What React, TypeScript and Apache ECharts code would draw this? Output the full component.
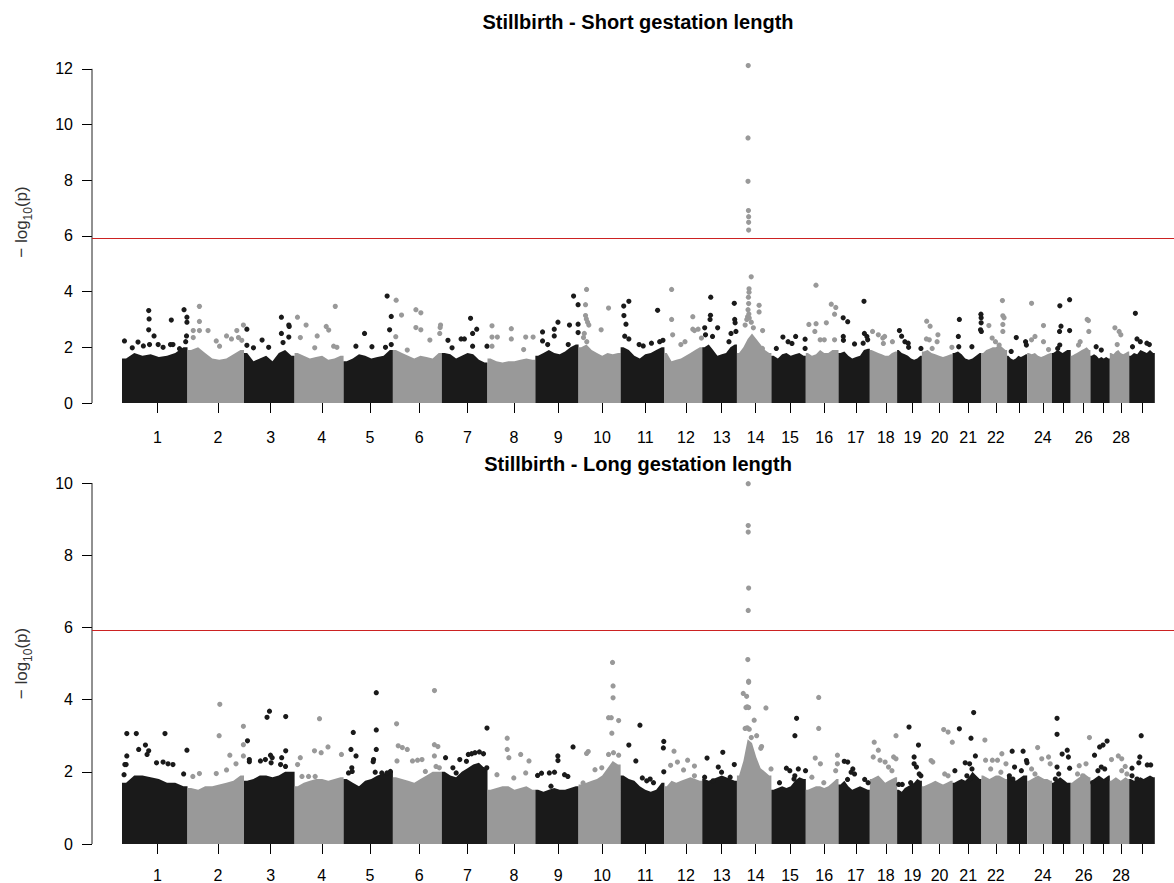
import React, { useEffect, useRef } from "react";
import * as echarts from "echarts";

// ---------- data ----------
const chromosomes = ["1","2","3","4","5","6","7","8","9","10","11","12","13","14","15","16","17","18","19","20","21","22","23","24","25","26","27","28","29"];
// chromosome lengths (Mb)
const chromLengthMb = [159.4,137.5,123.1,119.2,120.0,119.0,111.2,116.5,105.1,102.4,106.6,92.0,84.4,83.9,83.7,79.6,76.2,66.4,60.3,74.7,70.3,62.3,48.9,60.3,45.7,47.9,47.2,47.2,62.3];
// axis tick position inside each chromosome (Mb, median SNP)
const tickPosMb = [86.4,74.0,65.0,66.2,64.2,64.2,62.5,64.2,55.5,57.2,59.9,52.3,47.2,45.7,45.5,44.8,42.1,38.9,37.2,43.1,38.0,34.8,28.7,38.0,27.5,31.4,32.4,27.5,31.6];
const hiddenLabels = ["23","25","27","29"];
const yTicksShort = [0,2,4,6,8,10,12];
const yTicksLong = [0,2,4,6,8,10];
const yMaxShort = 13;
const yMaxLong = 10;
const threshold = 5.93;
const titleShort = "Stillbirth - Short gestation length";
const titleLong = "Stillbirth - Long gestation length";

// upper envelope of the dense SNP mass (8 values across each chromosome), -log10(p)
const bandShort = [
  [1.6,1.8,1.7,1.75,1.65,1.7,1.8,2.0],[1.9,2.0,1.8,1.6,1.55,1.6,1.75,1.9],[1.8,1.5,1.6,1.7,1.5,1.8,1.9,1.7],
  [1.8,1.7,1.6,1.65,1.7,1.55,1.6,1.7],[1.5,1.6,1.75,1.7,1.6,1.65,1.7,1.9],[1.9,1.8,1.7,1.6,1.7,1.65,1.6,1.8],
  [1.8,1.75,1.6,1.7,1.8,1.75,1.55,1.45],[1.6,1.5,1.45,1.5,1.5,1.55,1.6,1.55],[1.7,1.8,1.9,1.8,1.75,1.85,2.0,2.1],
  [2.0,2.1,1.9,1.8,1.7,1.8,1.75,1.8],[2.0,1.9,1.7,1.6,1.75,1.8,1.9,2.0],[1.8,1.5,1.55,1.6,1.7,1.8,1.9,2.0],
  [2.0,2.1,1.9,1.7,1.75,1.8,2.0,2.1],[1.8,2.0,2.3,2.5,2.3,2.1,1.9,1.8],[1.7,1.6,1.75,1.8,1.7,1.75,1.8,1.7],
  [1.8,1.7,1.75,1.9,1.8,1.8,1.9,1.9],[1.8,1.85,1.7,1.6,1.65,1.7,1.9,1.95],[1.9,1.85,1.8,1.75,1.7,1.7,1.8,1.85],
  [1.9,1.8,1.75,1.7,1.6,1.55,1.6,1.7],[1.85,1.9,1.8,1.75,1.7,1.65,1.7,1.75],[1.8,1.85,1.75,1.6,1.55,1.6,1.7,1.8],
  [1.8,1.9,1.95,2.0,2.0,2.1,2.0,1.9],[1.7,1.6,1.55,1.6,1.7,1.65,1.7,1.75],[1.8,1.75,1.8,1.7,1.65,1.7,1.75,1.8],
  [1.8,1.85,1.9,1.85,1.8,1.85,1.9,1.9],[1.7,1.75,1.8,1.85,1.9,1.95,2.0,1.9],[1.7,1.75,1.7,1.6,1.65,1.6,1.65,1.6],
  [1.8,1.75,1.85,1.9,1.8,1.75,1.8,1.85],[1.7,1.8,1.75,1.9,1.85,1.8,1.9,1.8]
];
const bandLong = [
  [1.7,1.9,1.9,1.85,1.8,1.7,1.7,1.6],[1.55,1.5,1.6,1.6,1.65,1.7,1.75,1.9],[1.75,1.8,1.9,1.9,1.85,1.9,2.0,2.0],
  [1.6,1.7,1.75,1.8,1.8,1.75,1.8,1.85],[1.8,1.7,1.6,1.75,1.8,1.9,1.95,2.0],[1.85,1.8,1.75,1.7,1.8,1.9,2.0,2.0],
  [2.0,1.9,1.85,2.0,2.1,2.2,2.25,2.1],[1.5,1.55,1.6,1.6,1.5,1.55,1.6,1.5],[1.5,1.45,1.5,1.55,1.5,1.5,1.55,1.6],
  [1.65,1.7,1.75,1.8,1.9,2.1,2.3,2.2],[1.9,1.8,1.75,1.6,1.5,1.45,1.5,1.7],[1.6,1.75,1.7,1.75,1.8,1.85,1.8,1.75],
  [1.8,1.75,1.8,1.85,1.9,1.85,1.8,1.75],[1.9,2.3,2.9,2.8,2.4,2.1,2.0,1.9],[1.5,1.55,1.6,1.55,1.6,1.75,1.85,1.8],
  [1.5,1.55,1.6,1.6,1.55,1.6,1.7,1.8],[1.65,1.75,1.6,1.5,1.55,1.6,1.55,1.5],[1.8,1.85,1.9,1.8,1.7,1.75,1.8,1.85],
  [1.5,1.45,1.55,1.6,1.65,1.7,1.8,1.75],[1.6,1.65,1.7,1.75,1.7,1.65,1.7,1.75],[1.7,1.75,1.8,1.75,1.85,2.0,1.9,1.8],
  [1.9,1.85,1.8,1.85,1.9,1.9,1.85,1.8],[1.9,1.85,1.8,1.75,1.8,1.85,1.9,1.9],[1.75,1.8,1.85,1.9,1.85,1.8,1.8,1.75],
  [1.7,1.75,1.8,1.85,1.8,1.75,1.7,1.7],[1.7,1.75,1.8,1.85,1.9,1.95,1.9,1.85],[1.75,1.8,1.85,1.9,1.85,1.8,1.85,1.9],
  [1.75,1.8,1.85,1.8,1.75,1.8,1.85,1.8],[1.8,1.75,1.8,1.85,1.8,1.85,1.9,1.85]
];

// individual SNPs above the dense mass: [chromosome, position Mb, -log10(p)]
const snpsShort = [
  [1,6,2.23],[1,25,1.98],[1,39,2.19],[1,52,2.05],[1,65,3.32],[1,66,3.02],[1,65,2.63],[1,67,2.1],[1,78,2.41],[1,88,2.1],[1,100,2.0],[1,118,2.1],[1,120,2.98],[1,124,2.1],[1,140,1.95],[1,151,3.35],[1,157,2.41],[1,158,3.08],[1,158,2.9],[1,155,2.2],
  [2,14,2.35],[2,14,2.6],[2,29,3.47],[2,29,2.93],[2,29,2.6],[2,50,2.6],[2,70,2.23],[2,78,2.04],[2,95,2.41],[2,107,2.3],[2,124,2.35],[2,120,2.6],[2,132,2.25],[2,136,2.8],
  [3,7,2.65],[3,7,2.07],[3,23,1.98],[3,44,2.26],[3,60,2.0],[3,91,3.08],[3,91,2.5],[3,95,2.17],[3,109,2.8],[3,110,2.75],[3,109,2.37],
  [4,7,3.08],[4,14,2.35],[4,28,2.8],[4,49,1.98],[4,55,2.41],[4,77,2.75],[4,83,2.62],[4,95,2.04],[4,99,3.47],[4,103,2.0],
  [5,30,2.04],[5,51,2.5],[5,69,2.02],[5,102,2.0],[5,106,3.84],[5,112,2.63],[5,116,3.11],[5,116,2.1],
  [6,7,2.38],[6,8,3.69],[6,21,3.16],[6,35,1.9],[6,56,3.35],[6,56,2.71],[6,68,3.24],[6,68,2.63],[6,90,2.26],[6,115,2.71],[6,114,2.5],[6,116,2.8],
  [7,15,2.25],[7,25,1.98],[7,47,2.3],[7,55,2.3],[7,70,3.04],[7,75,2.5],[7,85,2.65],[7,75,2.04],[7,110,2.04],
  [8,11,2.77],[8,11,2.37],[8,24,2.37],[8,11,2.04],[8,58,2.67],[8,58,2.3],[8,88,1.92],[8,93,2.37],[8,111,2.37],
  [9,17.5,2.55],[9,17.5,2.23],[9,30,2.1],[9,46,2.65],[9,46,2.41],[9,55,2.9],[9,80,2.1],[9,83,2.8],[9,93,3.84],[9,104,3.53],[9,104,2.83],[9,104,2.53],
  [10,19.5,4.08],[10,17,3.53],[10,17,3.14],[10,19,3.02],[10,22,2.9],[10,25,2.8],[10,14,2.5],[10,12,2.35],[10,55,2.63],[10,73,3.41],[10,20,2.2],
  [11,7.5,3.48],[11,20,3.65],[11,8,3.14],[11,13,2.83],[11,10,2.4],[11,20,2.3],[11,45,2.1],[11,55,2.05],[11,75,2.15],[11,90,3.33],[11,95,2.2],[11,103,2.25],
  [12,17.5,4.08],[12,17.5,3.0],[12,20,2.45],[12,40,2.1],[12,50,2.2],[12,69,3.1],[12,69,2.65],[12,73,2.6],[12,82,2.65],[12,90,2.33],
  [13,6,2.7],[13,8,2.45],[13,20,3.15],[13,19,3.0],[13,20.7,3.8],[13,25,2.39],[13,37.5,2.7],[13,65,2.2],[13,70,2.5],[13,78,3.58],[13,79,3.0],[13,80,2.88],[13,82,2.57],
  [14,27.5,12.12],[14,27,9.52],[14,27,7.96],[14,28,6.91],[14,28.5,6.69],[14,28.5,6.49],[14,28.5,6.21],[14,34.8,4.53],[14,29.5,4.1],[14,29.5,3.98],[14,28,3.8],[14,28.5,3.57],[14,27,3.35],[14,29,3.2],[14,26,3.1],[14,30,3.05],[14,24,3.0],[14,20,2.8],[14,35,2.9],[14,40,2.7],[14,54,3.51],[14,54,3.27],[14,62.5,2.6],[14,62,1.96],
  [15,28,2.37],[15,40.6,2.2],[15,59,2.39],[15,82,2.29],[15,82,1.96],[15,12,1.96],[15,50,2.14],
  [16,7.5,2.82],[16,24.8,4.23],[16,25,2.85],[16,22,2.57],[16,50,2.88],[16,62,3.55],[16,73,3.43],[16,70,3.19],[16,35,2.27],[16,45,2.27],[16,70,2.27],
  [17,11.4,3.06],[17,22.4,2.92],[17,11.6,2.39],[17,12,2.25],[17,39,2.12],[17,62,3.65],[17,63,2.5],[17,69,2.39],[17,71,2.27],[17,60,2.15],
  [18,6.6,2.57],[18,20.7,2.45],[18,31.6,2.33],[18,36,2.39],[18,55,2.2],[18,33,2.14],
  [19,5.6,2.6],[19,11,2.4],[19,19,2.2],[19,27,2.15],[19,28,2.0],[19,58,1.96],
  [20,11.7,2.94],[20,20,2.76],[20,11,2.3],[20,18,2.27],[20,39,2.45],[20,37,2.2],[20,73,2.0],[20,25,1.96],
  [21,16.5,3.0],[21,14,2.39],[21,15,2.02],[21,47,2.02],[21,69,3.19],[21,69.5,3.06],[21,69.5,2.88],[21,68,2.63],[21,70,2.57],
  [22,18,2.78],[22,51,3.68],[22,52,3.13],[22,55,3.06],[22,52,2.82],[22,52,2.57],[22,26,2.33],[22,34,2.2],[22,43,2.08],
  [23,22.4,2.35],[23,45,2.2],[23,47,2.08],[23,10,1.85],
  [24,10.7,3.58],[24,39.7,2.78],[24,10.7,2.27],[24,19,2.39],[24,39.7,2.2],[24,52,1.92],
  [25,19.2,3.49],[25,43,3.71],[25,22,2.76],[25,18.5,2.57],[25,43,2.6],[25,19,2.08],[25,14,1.96],
  [26,40,3.0],[26,43,2.96],[26,44,2.57],[26,19,2.08],[26,23,2.2],
  [27,14,2.02],[27,26.5,1.9],
  [28,12.4,2.7],[28,22.7,2.57],[28,26.8,2.45],[28,18,2.1],
  [29,15,3.22],[29,19,2.3],[29,27,2.2],[29,43,2.15],[29,49,2.1],[29,8,2.02]
];
const snpsLong = [
  [1,7,2.2],[1,10,2.2],[1,11.7,3.06],[1,11.7,2.44],[1,34.8,3.06],[1,40.6,2.62],[1,57,2.74],[1,65,2.58],[1,61,2.48],[1,84,2.25],[1,100,2.27],[1,104.6,3.06],[1,112,2.22],[1,124,2.2],[1,150,1.94],[1,158,2.6],[1,5,1.92],
  [2,78.6,3.87],[2,77,3.0],[2,136,3.26],[2,136,2.75],[2,136,2.44],[2,103,2.46],[2,118,2.22],[2,13,1.87],[2,29,1.95],[2,70,1.95],[2,95,2.05],
  [3,62,3.68],[3,56,3.51],[3,101.5,3.53],[3,8.5,2.86],[3,13,2.34],[3,13,2.28],[3,40,2.3],[3,52,2.34],[3,64.5,2.46],[3,68.6,2.39],[3,66,2.25],[3,91.7,2.39],[3,101.5,2.58],[3,89,2.2],[3,101,2.15],
  [4,60.6,3.47],[4,48.4,2.58],[4,64.7,2.53],[4,81.3,2.69],[4,13.9,2.39],[4,114,2.48],[4,18,1.87],[4,34,1.87],[4,50,1.87],[4,7.3,2.2],
  [5,79.6,4.19],[5,79.6,3.16],[5,79.6,2.62],[5,23.6,3.09],[5,18,2.62],[5,30.3,2.44],[5,73,2.34],[5,72,2.28],[5,20,2.11],[5,21,2.01],[5,77,1.99],[5,93,1.97],[5,105.6,1.97],[5,114,2.01],[5,12,1.97],
  [6,101.2,4.25],[6,9,3.33],[6,13,2.72],[6,23,2.67],[6,35,2.62],[6,101,2.75],[6,109.5,2.7],[6,10,2.3],[6,47.7,2.3],[6,60,2.32],[6,70.8,2.34],[6,79,2.01],[6,101,2.44],[6,105,2.15],[6,113,2.11],
  [7,110,3.21],[7,64.5,2.48],[7,72.7,2.5],[7,80.8,2.53],[7,91.5,2.55],[7,101.5,2.5],[7,43.8,2.34],[7,60,2.29],[7,9.2,2.39],[7,101.5,2.06],[7,109.5,2.11],[7,27,2.11],[7,35,1.97],
  [8,48,2.93],[8,48,2.62],[8,52,2.39],[8,80.8,2.48],[8,101,2.3],[8,93,1.97],[8,23,1.92],[8,64,1.83],
  [9,91.7,2.69],[9,54.7,2.44],[9,55,2.31],[9,5.4,1.9],[9,15,1.96],[9,34,1.97],[9,46.5,1.99],[9,71,1.92],[9,79,1.87],[9,38,1.6],
  [10,82.7,5.03],[10,84,4.38],[10,84,4.05],[10,73,3.5],[10,79.6,3.5],[10,97.6,3.42],[10,81,3.07],[10,23.6,2.56],[10,19.5,2.51],[10,73,2.48],[10,85,2.53],[10,97.6,2.46],[10,40,2.06],[10,56.5,2.11],[10,11,1.69],
  [11,20,2.74],[11,37,2.3],[11,47,3.29],[11,105,2.84],[11,104,2.66],[11,105,2.0],[11,71.8,1.8],[11,80,1.7],[11,63.5,1.75],[11,52.8,1.83],
  [12,23.3,2.57],[12,31.6,2.27],[12,56.4,2.32],[12,73,2.16],[12,46.5,2.05],[12,15,2.18],[12,73,1.89],
  [13,11.7,2.38],[13,50,2.54],[13,78,2.2],[13,39,2.13],[13,47,1.99],[13,5.8,1.85],[13,26.5,1.75],[13,68,1.85],
  [14,27.5,9.98],[14,27.5,8.82],[14,27.5,8.64],[14,28.5,7.09],[14,27.5,6.47],[14,26.5,5.11],[14,28.5,4.51],[14,28.5,4.48],[14,15.4,4.17],[14,23.6,4.09],[14,22,3.78],[14,25,3.8],[14,28.5,3.78],[14,70.6,3.77],[14,42,3.43],[14,20,3.2],[14,25,3.22],[14,30,3.18],[14,48,3.0],[14,60,2.7],[14,58,2.65],[14,35,2.95],[14,83,2.08],
  [15,61.3,3.48],[15,57.2,3.0],[15,36.5,2.1],[15,44.8,2.03],[15,65.5,2.08],[15,83,2.03],[15,57,1.89],[15,55,1.8],[15,19.7,1.7],
  [16,31.4,4.06],[16,31.4,3.2],[16,23,2.38],[16,35.5,2.22],[16,72.7,2.03],[16,76.9,2.22],[16,77,2.46],[16,14.8,1.85],[16,43.8,1.7],
  [17,14,2.29],[17,22.4,2.27],[17,34.8,2.08],[17,30.7,1.99],[17,39,1.94],[17,22,1.79],[17,63.7,1.79],[17,72,1.7],
  [18,10.7,2.82],[18,20.7,2.6],[18,8.3,2.41],[18,24.8,2.32],[18,37.2,2.27],[18,63.7,3.0],[18,57.9,2.41],[18,63.7,2.36],[18,45.5,2.13],[18,53.8,2.03],
  [19,29,3.24],[19,52,2.74],[19,41.4,2.41],[19,41.4,2.22],[19,47,2.13],[19,53.8,1.94],[19,57.9,1.89],[19,12.4,1.65],[19,33,1.7],[19,4,1.65],
  [20,53,3.17],[20,63.7,3.1],[20,22.4,2.31],[20,26.5,2.27],[20,74,2.82],[20,55.5,1.94],[20,63.7,1.89],
  [21,16.5,3.19],[21,51.3,3.64],[21,44.8,2.93],[21,55.5,2.44],[21,30.7,2.25],[21,41.4,2.22],[21,47.2,2.08],[21,5.6,2.03],[21,34.8,1.89],[21,43,1.8],
  [22,8.3,2.88],[22,10,2.32],[22,26.5,2.32],[22,39,2.32],[22,49.6,2.5],[22,59.6,2.22],[22,22.4,2.08],[22,47.2,1.99],
  [23,12.4,2.57],[23,39,2.57],[23,18.2,2.13],[23,34.8,2.03],[23,47.2,2.31],[23,48.5,2.25],[23,5.6,1.89],[23,14,1.8],
  [24,25.5,2.67],[24,35.5,2.36],[24,52,2.41],[24,56,2.22],[24,10.7,2.08],[24,19,1.94],
  [25,12.4,3.48],[25,12.4,3.04],[25,24.8,2.49],[25,37.2,2.6],[25,40,2.41],[25,43,2.1],[25,12.4,2.13],[25,16.5,1.94],[25,8.3,1.8],
  [26,45.5,2.95],[26,20.7,2.17],[26,37.2,2.22],[26,16.5,1.94],[26,29,1.89],
  [27,10,2.46],[27,22.4,2.69],[27,30.7,2.74],[27,40.6,2.85],[27,26.5,2.13],[27,18.2,2.03],[27,34.8,2.08],[27,5.8,1.7],
  [28,4.1,2.34],[28,20.7,2.44],[28,29,2.36],[28,37.5,2.15],[28,29,2.03],[28,41.6,1.94],
  [29,29.2,3.0],[29,25.8,2.41],[29,6.8,2.1],[29,23.4,2.25],[29,44,2.19],[29,52.3,2.19],[29,6.8,1.89],[29,19,1.8]
];

// ---------- styling ----------
const FONT = '"Liberation Sans", Arial, Helvetica, sans-serif';
const BLACK = "#1a1a1a";
const GRAY = "#999999";
const RED = "#cc2222";
const X_MIN = -73;
const X_MAX = 2560;

const chromStart: number[] = [];
{
  let acc = 0;
  for (const l of chromLengthMb) { chromStart.push(acc); acc += l; }
}
const tickAbs = tickPosMb.map((t, i) => chromStart[i] + t);
const labelAbs = tickAbs.filter((_, i) => !hiddenLabels.includes(chromosomes[i]));

const colorOf = (idx: number) => (idx % 2 === 0 ? BLACK : GRAY);

const bandData = (env: number[][]) =>
  env.map((e, i) => [chromStart[i], chromStart[i] + chromLengthMb[i], ...e, i]);
const snpData = (pts: number[][]) =>
  pts.map(([c, pos, p]) => [chromStart[c - 1] + pos, p, c - 1]);

const renderBand = (_params: any, api: any) => {
  const s = api.value(0);
  const e = api.value(1);
  const idx = api.value(10);
  const pts: number[][] = [api.coord([s, 0]), api.coord([s, api.value(2)])];
  for (let k = 0; k < 8; k++) {
    pts.push(api.coord([s + ((e - s) * (k + 0.5)) / 8, api.value(2 + k)]));
  }
  pts.push(api.coord([e, api.value(9)]));
  pts.push(api.coord([e, 0]));
  return { type: "polygon", shape: { points: pts }, style: { fill: colorOf(idx) } };
};

const mkX = (gi: number, margin: number) => ({
  type: "value",
  gridIndex: gi,
  min: X_MIN,
  max: X_MAX,
  axisLine: { show: false, onZero: false },
  splitLine: { show: false },
  axisTick: { show: true, length: 10, inside: false, customValues: tickAbs, lineStyle: { color: "#000", width: 1 } },
  axisLabel: {
    show: true,
    customValues: labelAbs,
    hideOverlap: false,
    margin,
    fontSize: 16,
    lineHeight: 13,
    fontFamily: FONT,
    color: "#000",
    formatter: (v: number) => {
      const i = tickAbs.findIndex((t) => Math.abs(t - v) < 0.01);
      return i >= 0 ? chromosomes[i] : "";
    },
  },
});

const mkY = (gi: number, max: number, ticks: number[]) => ({
  type: "value",
  gridIndex: gi,
  min: 0,
  max,
  axisLine: { show: false, onZero: false },
  splitLine: { show: false },
  axisTick: { show: true, length: 10, inside: false, customValues: ticks, lineStyle: { color: "#000", width: 1 } },
  axisLabel: { show: true, customValues: ticks, margin: 19, fontSize: 16, fontFamily: FONT, color: "#000" },
  name: "\u2212 log{sub|10}(p)",
  nameLocation: "middle",
  nameGap: 58,
  nameTextStyle: {
    fontSize: 17,
    fontFamily: FONT,
    color: "#333",
    lineHeight: 26,
    rich: { sub: { fontSize: 12, fontFamily: FONT, color: "#333", lineHeight: 12, verticalAlign: "bottom" } },
  },
});

const panelSeries = (gi: number, band: number[][], snps: number[][], yTop: number) => [
  {
    type: "custom",
    xAxisIndex: gi,
    yAxisIndex: gi,
    renderItem: renderBand,
    data: bandData(band),
    encode: { x: [0, 1], y: [2, 3, 4, 5, 6, 7, 8, 9] },
    clip: true,
    silent: true,
    z: 2,
  },
  {
    type: "scatter",
    xAxisIndex: gi,
    yAxisIndex: gi,
    data: snpData(snps),
    symbol: "circle",
    symbolSize: 5.2,
    itemStyle: { opacity: 1, color: (p: any) => colorOf(p.data[2]) },
    silent: true,
    z: 3,
    markLine: {
      silent: true,
      symbol: "none",
      label: { show: false },
      lineStyle: { color: RED, width: 1, type: "solid" },
      data: [{ yAxis: threshold }],
    },
  },
  {
    type: "line",
    xAxisIndex: gi,
    yAxisIndex: gi,
    data: [[X_MIN, 0], [X_MIN, yTop]],
    showSymbol: false,
    symbol: "none",
    clip: false,
    silent: true,
    lineStyle: { color: "#222", width: 1 },
    z: 4,
  },
];

export default function App() {
  const ref = useRef<HTMLDivElement>(null);
  useEffect(() => {
    if (!ref.current) return;
    const chart = echarts.init(ref.current, null, { renderer: "svg" });
    const option: any = {
      animation: false,
      backgroundColor: "#fff",
      grid: [
        { left: 92, right: 0, top: 41, height: 362, containLabel: false, outerBoundsMode: "none" },
        { left: 92, right: 0, top: 483, height: 361, containLabel: false, outerBoundsMode: "none" },
      ],
      xAxis: [mkX(0, 28), mkX(1, 25)],
      yAxis: [mkY(0, yMaxShort, yTicksShort), mkY(1, yMaxLong, yTicksLong)],
      graphic: [
        {
          type: "text",
          x: 638,
          y: 22,
          style: { text: titleShort, fill: "#000", font: `bold 20px ${FONT}`, textAlign: "center", textVerticalAlign: "middle", align: "center", verticalAlign: "middle" },
        },
        {
          type: "text",
          x: 638,
          y: 464,
          style: { text: titleLong, fill: "#000", font: `bold 20px ${FONT}`, textAlign: "center", textVerticalAlign: "middle", align: "center", verticalAlign: "middle" },
        },
      ],
      series: [
        ...panelSeries(0, bandShort, snpsShort, yTicksShort[yTicksShort.length - 1]),
        ...panelSeries(1, bandLong, snpsLong, yTicksLong[yTicksLong.length - 1]),
      ],
    };
    chart.setOption(option);
    return () => chart.dispose();
  }, []);
  return <div ref={ref} style={{ position: "absolute", left: 0, top: 0, width: 1174, height: 883, background: "#fff" }} />;
}
